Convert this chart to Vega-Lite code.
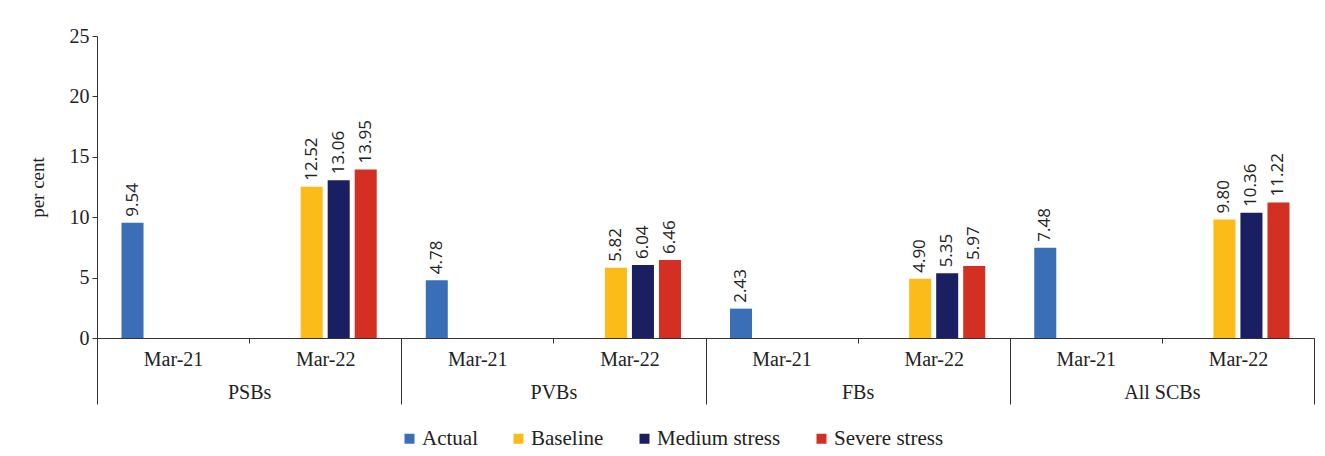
{
  "$schema": "https://vega.github.io/schema/vega-lite/v6.json",
  "background": "white",
  "padding": {"left": 28, "top": 26, "right": 12, "bottom": 2},
  "width": 1217,
  "height": 302,
  "data": {"values": [
    {"group": "PSBs", "period": "Mar-21", "cat": "PSBs|Mar-21", "series": "Actual", "value": 9.54},
    {"group": "PSBs", "period": "Mar-22", "cat": "PSBs|Mar-22", "series": "Baseline", "value": 12.52},
    {"group": "PSBs", "period": "Mar-22", "cat": "PSBs|Mar-22", "series": "Medium stress", "value": 13.06},
    {"group": "PSBs", "period": "Mar-22", "cat": "PSBs|Mar-22", "series": "Severe stress", "value": 13.95},
    {"group": "PVBs", "period": "Mar-21", "cat": "PVBs|Mar-21", "series": "Actual", "value": 4.78},
    {"group": "PVBs", "period": "Mar-22", "cat": "PVBs|Mar-22", "series": "Baseline", "value": 5.82},
    {"group": "PVBs", "period": "Mar-22", "cat": "PVBs|Mar-22", "series": "Medium stress", "value": 6.04},
    {"group": "PVBs", "period": "Mar-22", "cat": "PVBs|Mar-22", "series": "Severe stress", "value": 6.46},
    {"group": "FBs", "period": "Mar-21", "cat": "FBs|Mar-21", "series": "Actual", "value": 2.43},
    {"group": "FBs", "period": "Mar-22", "cat": "FBs|Mar-22", "series": "Baseline", "value": 4.90},
    {"group": "FBs", "period": "Mar-22", "cat": "FBs|Mar-22", "series": "Medium stress", "value": 5.35},
    {"group": "FBs", "period": "Mar-22", "cat": "FBs|Mar-22", "series": "Severe stress", "value": 5.97},
    {"group": "All SCBs", "period": "Mar-21", "cat": "All SCBs|Mar-21", "series": "Actual", "value": 7.48},
    {"group": "All SCBs", "period": "Mar-22", "cat": "All SCBs|Mar-22", "series": "Baseline", "value": 9.80},
    {"group": "All SCBs", "period": "Mar-22", "cat": "All SCBs|Mar-22", "series": "Medium stress", "value": 10.36},
    {"group": "All SCBs", "period": "Mar-22", "cat": "All SCBs|Mar-22", "series": "Severe stress", "value": 11.22}
  ]},
  "layer": [
    {
      "layer": [
        {
          "mark": {"type": "bar"},
          "encoding": {
            "color": {"field": "series", "type": "nominal",
                      "scale": {"domain": ["Actual", "Baseline", "Medium stress", "Severe stress"],
                                "range": ["#3a6fb8", "#fbbc19", "#1a1f62", "#d32f22"]},
                      "legend": {"title": null, "orient": "none", "direction": "horizontal",
                                 "legendX": 302, "legendY": 392}}
          }
        },
        {
          "mark": {"type": "text", "angle": 270, "align": "left", "baseline": "middle", "dx": 6,
                   "font": "Open Sans", "fontSize": 17, "color": "#222222"},
          "encoding": {
            "text": {"field": "value", "type": "quantitative", "format": ".2f"}
          }
        }
      ],
      "encoding": {
        "x": {"field": "cat", "type": "nominal",
              "sort": ["PSBs|Mar-21", "PSBs|Mar-22", "PVBs|Mar-21", "PVBs|Mar-22", "FBs|Mar-21", "FBs|Mar-22", "All SCBs|Mar-21", "All SCBs|Mar-22"],
              "scale": {"paddingInner": 0, "paddingOuter": 0},
              "axis": {"title": null, "labelAngle": 0, "orient": "bottom",
                       "labelExpr": "split(datum.label, '|')[1]",
                       "tickBand": "extent", "tickSize": 5,
                       "labelFont": "Liberation Serif", "labelFontSize": 20, "labelPadding": 6}},
        "xOffset": {"field": "series", "type": "nominal",
                    "sort": ["Actual", "Baseline", "Medium stress", "Severe stress"],
                    "scale": {"paddingInner": 0.185, "paddingOuter": 0.907}},
        "y": {"field": "value", "type": "quantitative",
              "scale": {"domain": [0, 25], "nice": false},
              "axis": {"title": "per cent", "values": [0, 5, 10, 15, 20, 25]}}
      }
    },
    {
      "mark": {"type": "point", "opacity": 0},
      "encoding": {
        "x": {"field": "group", "type": "nominal",
              "sort": ["PSBs", "PVBs", "FBs", "All SCBs"],
              "scale": {"paddingInner": 0, "paddingOuter": 0},
              "axis": {"title": null, "labelAngle": 0, "orient": "bottom",
                       "domain": false, "tickBand": "extent", "tickSize": 66,
                       "labelPadding": -22, "labelBaseline": "top",
                       "labelFont": "Liberation Serif", "labelFontSize": 20}},
        "y": {"datum": 0, "type": "quantitative"}
      }
    }
  ],
  "resolve": {"scale": {"x": "independent"}, "axis": {"x": "independent"}},
  "config": {
    "view": {"stroke": null},
    "axis": {
      "grid": false,
      "domainColor": "#333333",
      "tickColor": "#333333",
      "labelColor": "#222222",
      "titleColor": "#222222"
    },
    "axisY": {
      "tickSize": 5,
      "labelFont": "Liberation Serif",
      "labelFontSize": 20,
      "labelPadding": 3,
      "titleFont": "Liberation Serif",
      "titleFontSize": 19,
      "titleFontWeight": "normal",
      "titlePadding": 22
    },
    "legend": {
      "symbolType": "square",
      "symbolSize": 100,
      "symbolStrokeWidth": 0,
      "labelFont": "Liberation Serif",
      "labelFontSize": 21,
      "labelOffset": 2,
      "labelColor": "#222222",
      "columnPadding": 30
    }
  }
}
